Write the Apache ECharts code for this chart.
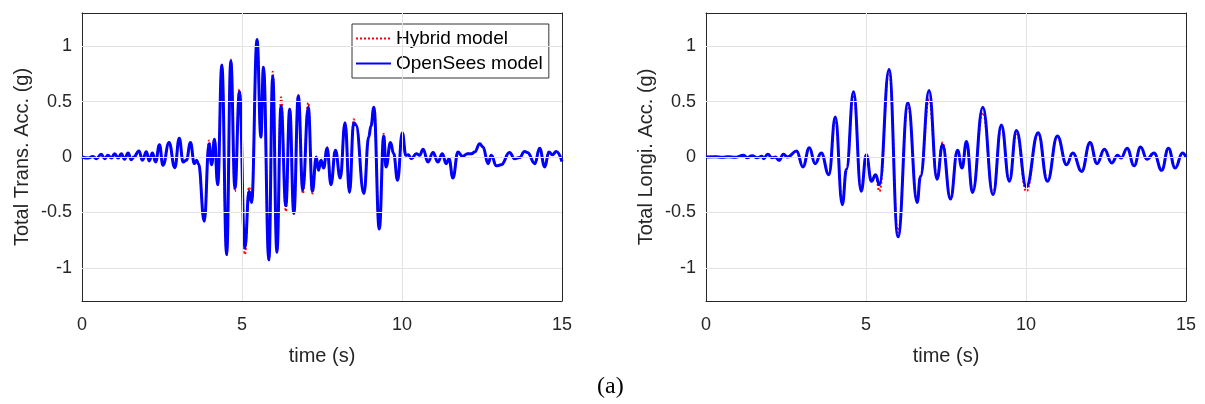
<!DOCTYPE html>
<html>
<head>
<meta charset="utf-8">
<script src="https://cdn.jsdelivr.net/npm/echarts@6/dist/echarts.min.js"></script>
<style>
html,body{margin:0;padding:0;background:#fff;}
#chart{width:1205px;height:404px;}
</style>
</head>
<body>
<div id="chart"></div>
<script>
// ---------- DATA ----------
const xTicks = [0, 5, 10, 15];
const yTicks = [-1, -0.5, 0, 0.5, 1];
const yTickLabels = ['-1', '-0.5', '0', '0.5', '1'];

// Left panel: Total Trans. Acc. (g)
const transTime = [0.00,0.19,0.34,0.45,0.60,0.71,0.81,0.92,1.02,1.13,1.23,1.33,1.44,1.54,1.62,1.78,1.89,2.01,2.10,2.20,2.30,2.42,2.53,2.72,2.90,3.04,3.16,3.26,3.39,3.51,3.58,3.64,3.82,3.97,4.05,4.14,4.24,4.37,4.52,4.65,4.78,4.92,5.09,5.22,5.30,5.47,5.59,5.67,5.84,5.96,6.09,6.22,6.37,6.49,6.62,6.76,6.90,7.07,7.20,7.32,7.39,7.47,7.55,7.66,7.78,7.92,8.07,8.22,8.36,8.49,8.56,8.81,8.96,9.03,9.12,9.29,9.43,9.50,9.64,9.74,9.86,10.01,10.12,10.20,10.29,10.45,10.55,10.66,10.81,10.97,11.12,11.26,11.38,11.47,11.59,11.75,11.89,12.05,12.18,12.27,12.43,12.53,12.69,12.79,12.95,13.10,13.36,13.52,13.67,13.83,13.92,14.15,14.30,14.46,14.59,14.70,14.82,15.00];
const transOpenSees = [0,-0.01,0.005,-0.015,0.024,-0.015,0.015,-0.01,0.03,-0.01,0.03,-0.02,0.036,-0.024,0,0.054,-0.03,0.048,-0.036,0.036,-0.045,0.11,-0.075,0.13,-0.096,0.17,-0.045,-0.03,0.13,-0.06,-0.03,-0.06,-0.58,0.12,-0.07,0.16,-0.25,0.83,-0.88,0.87,-0.28,0.59,-0.82,-0.31,-0.41,1.06,0.18,0.81,-0.93,0.73,-0.86,0.46,-0.44,0.43,-0.51,0.55,-0.30,0.45,-0.31,0,-0.12,-0.03,-0.10,0.08,-0.25,0.06,-0.19,0.31,-0.32,0.31,0.29,-0.33,0.18,0.28,0.45,-0.65,0.19,-0.09,0.13,0.03,-0.21,0.22,0.015,0.02,-0.015,0.03,0.015,0.07,-0.045,0.04,-0.045,0.03,-0.06,-0.015,-0.19,0.045,0.006,0.03,0.03,0.045,0.12,0.09,-0.06,0.015,-0.08,-0.07,0.04,-0.015,-0.005,0.05,0.04,-0.06,0.08,-0.09,0.045,0.02,0.05,-0.04];
const transHybrid = [0,-0.01,0.005,-0.015,0.024,-0.015,0.015,-0.01,0.03,-0.01,0.03,-0.02,0.036,-0.024,0,0.054,-0.03,0.048,-0.036,0.036,-0.045,0.11,-0.075,0.13,-0.096,0.17,-0.045,-0.03,0.13,-0.06,-0.03,-0.06,-0.58,0.15,-0.07,0.16,-0.25,0.83,-0.89,0.88,-0.31,0.61,-0.88,-0.27,-0.41,1.06,0.18,0.81,-0.94,0.77,-0.86,0.54,-0.49,0.43,-0.51,0.56,-0.33,0.49,-0.33,0,-0.12,-0.03,-0.10,0.09,-0.25,0.06,-0.19,0.31,-0.32,0.34,0.30,-0.33,0.18,0.28,0.45,-0.65,0.21,-0.09,0.13,0.03,-0.21,0.22,0.015,0.02,-0.015,0.03,0.015,0.07,-0.045,0.04,-0.045,0.03,-0.06,-0.015,-0.19,0.045,0.006,0.03,0.03,0.045,0.12,0.09,-0.06,0.015,-0.08,-0.07,0.04,-0.015,-0.005,0.05,0.04,-0.06,0.08,-0.09,0.045,0.02,0.05,-0.04];

// Right panel: Total Longi. Acc. (g)
const longiTime = [0.00,0.30,0.50,0.70,0.90,1.18,1.28,1.44,1.60,1.75,1.80,1.93,2.06,2.17,2.28,2.42,2.55,2.83,3.03,3.23,3.41,3.60,3.84,4.04,4.26,4.39,4.61,4.85,5.01,5.17,5.30,5.42,5.72,6.00,6.31,6.60,6.70,6.97,7.22,7.39,7.64,7.86,8.00,8.14,8.33,8.65,8.97,9.23,9.48,9.70,10.01,10.38,10.67,10.98,11.27,11.46,11.74,12.00,12.22,12.45,12.68,12.86,12.97,13.16,13.38,13.58,13.78,14.00,14.24,14.45,14.66,14.89,15.00];
const longiOpenSees = [0,0.003,-0.003,0.002,-0.003,0.015,-0.006,0.012,-0.006,0.006,-0.015,0.024,-0.006,0,-0.03,0.024,0,0.055,-0.09,0.084,-0.06,0.036,-0.16,0.36,-0.43,-0.11,0.59,-0.31,0.02,-0.22,-0.16,-0.25,0.79,-0.72,0.49,-0.41,-0.18,0.60,-0.20,0.11,-0.38,0.06,-0.10,0.14,-0.32,0.45,-0.34,0.29,-0.22,0.24,-0.27,0.22,-0.22,0.19,-0.07,0.036,-0.13,0.13,-0.06,0.07,-0.054,0.015,-0.01,0.08,-0.08,0.09,-0.02,0.035,-0.12,0.08,-0.10,0.036,0];
const longiHybrid = [0,0.003,-0.003,0.002,-0.003,0.015,-0.006,0.012,-0.006,0.006,-0.015,0.024,-0.006,0,-0.03,0.024,0,0.05,-0.085,0.08,-0.06,0.03,-0.15,0.33,-0.40,-0.11,0.56,-0.30,0.02,-0.20,-0.16,-0.31,0.77,-0.68,0.47,-0.40,-0.17,0.52,-0.19,0.13,-0.37,0.06,-0.09,0.13,-0.31,0.40,-0.33,0.27,-0.21,0.22,-0.31,0.21,-0.21,0.18,-0.07,0.036,-0.13,0.12,-0.06,0.07,-0.05,0.015,-0.01,0.075,-0.08,0.085,-0.02,0.035,-0.11,0.075,-0.10,0.035,0];

// ---------- CHART ----------
const FONT = '"Liberation Sans", Arial, Helvetica, sans-serif';
const TXT = '#262626';
const GRIDC = '#e3e3e3';
const pairs = (xs, ys) => xs.map((x, i) => [x, ys[i]]);

function xAxes(gi) {
  return [
    {
      type: 'value', gridIndex: gi, position: 'bottom', min: 0, max: 15, interval: 5,
      name: 'time (s)', nameLocation: 'middle', nameGap: 45,
      nameTextStyle: {fontFamily: FONT, fontSize: 20, color: TXT},
      axisLine: {show: true, onZero: false, lineStyle: {color: TXT, width: 1}},
      axisTick: {show: true, inside: true, length: 5, lineStyle: {color: TXT}},
      axisLabel: {fontFamily: FONT, fontSize: 18, color: TXT, margin: 15},
      splitLine: {show: false}
    },
    {
      type: 'value', gridIndex: gi, position: 'top', min: 0, max: 15, interval: 5,
      axisLine: {show: true, onZero: false, lineStyle: {color: TXT, width: 1}},
      axisTick: {show: true, inside: true, length: 5, lineStyle: {color: TXT}},
      axisLabel: {show: false}, splitLine: {show: false}
    }
  ];
}
function yAxes(gi, name) {
  return [
    {
      type: 'value', gridIndex: gi, position: 'left', min: -1.3, max: 1.3,
      name: name, nameLocation: 'middle', nameGap: 50,
      nameTextStyle: {fontFamily: FONT, fontSize: 20, color: TXT},
      axisLine: {show: true, onZero: false, lineStyle: {color: TXT, width: 1}},
      axisTick: {show: true, inside: true, length: 5, lineStyle: {color: TXT}, customValues: yTicks},
      axisLabel: {fontFamily: FONT, fontSize: 18, color: TXT, margin: 10, customValues: yTicks,
        formatter: v => { const i = yTicks.findIndex(t => Math.abs(t - v) < 1e-6); return i >= 0 ? yTickLabels[i] : ''; }},
      splitLine: {show: false}
    },
    {
      type: 'value', gridIndex: gi, position: 'right', min: -1.3, max: 1.3,
      axisLine: {show: true, onZero: false, lineStyle: {color: TXT, width: 1}},
      axisTick: {show: true, inside: true, length: 5, lineStyle: {color: TXT}, customValues: yTicks},
      axisLabel: {show: false, customValues: yTicks}, splitLine: {show: false}
    }
  ];
}
function gridSeries(xi, yi) {
  return {
    type: 'line', xAxisIndex: xi, yAxisIndex: yi, data: [], silent: true, z: 1,
    markLine: {
      silent: true, symbol: 'none', animation: false, label: {show: false},
      lineStyle: {color: GRIDC, width: 1, type: 'solid'},
      data: yTicks.map(v => ({yAxis: v})).concat(xTicks.slice(1, -1).map(v => ({xAxis: v})))
    }
  };
}
function dataSeries(xi, yi, name, t, v, hybrid) {
  return {
    name: name, type: 'line', xAxisIndex: xi, yAxisIndex: yi,
    data: pairs(t, v), symbol: 'none', smooth: 0.45, smoothMonotone: 'x',
    animation: false, z: hybrid ? 2 : 3,
    lineStyle: hybrid ? {color: '#ff0000', width: 2, type: [2, 2]} : {color: '#0000ff', width: 3},
    itemStyle: {color: hybrid ? '#ff0000' : '#0000ff'}
  };
}

const chart = echarts.init(document.getElementById('chart'), null, {renderer: 'canvas'});
chart.setOption({
  animation: false,
  backgroundColor: '#ffffff',
  title: {
    text: '(a)', left: 592, top: 370,
    textStyle: {fontFamily: '"Liberation Serif", "Times New Roman", serif', fontSize: 24, fontWeight: 'normal', color: '#000'}
  },
  grid: [
    {left: 82, top: 13, width: 480, height: 288},
    {left: 706, top: 13, width: 480, height: 288}
  ],
  xAxis: xAxes(0).concat(xAxes(1)),
  yAxis: yAxes(0, 'Total Trans. Acc. (g)').concat(yAxes(1, 'Total Longi. Acc. (g)')),
  legend: {
    data: ['Hybrid model', 'OpenSees model'],
    orient: 'vertical', left: 352, top: 24,
    backgroundColor: '#fff', borderColor: '#333', borderWidth: 1,
    padding: [5, 6, 5, 3], itemGap: 6, itemWidth: 35, itemHeight: 14,
    itemStyle: {opacity: 0},
    textStyle: {fontFamily: FONT, fontSize: 19, color: '#000'},
    selectedMode: false
  },
  series: [
    gridSeries(0, 0),
    gridSeries(2, 2),
    dataSeries(0, 0, 'Hybrid model', transTime, transHybrid, true),
    dataSeries(0, 0, 'OpenSees model', transTime, transOpenSees, false),
    dataSeries(2, 2, 'Hybrid model', longiTime, longiHybrid, true),
    dataSeries(2, 2, 'OpenSees model', longiTime, longiOpenSees, false)
  ]
});
</script>
</body>
</html>
